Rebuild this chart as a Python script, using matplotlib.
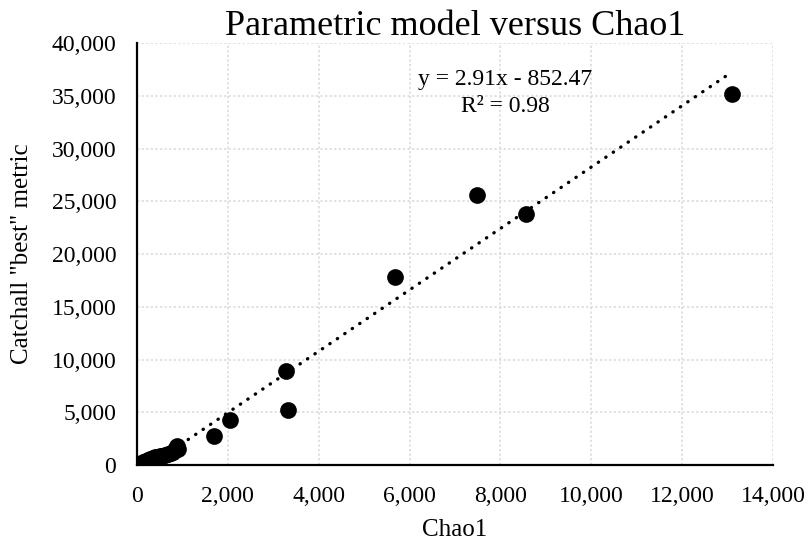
import numpy as np
import matplotlib
matplotlib.use("Agg")
import matplotlib.pyplot as plt
from matplotlib.ticker import FuncFormatter, MultipleLocator

# values
chao1 = [140, 170, 200, 240, 280, 320, 360, 400, 450, 500, 560, 620, 680, 740, 790,
         830, 860, 880, 900, 1700, 2040, 3290, 3320, 5690, 7490, 8560, 13100]
catchall = [250, 320, 400, 480, 540, 600, 660, 720, 780, 840, 900, 960, 1030, 1120, 1250,
            1400, 1600, 1850, 1550, 2750, 4280, 8940, 5230, 17870, 25570, 23760, 35200]

# linear trend as printed on the chart
slope = 2.91
intercept = -852.47
r2 = 0.98

plt.rcParams['font.family'] = ['Liberation Serif', 'DejaVu Serif']

fig = plt.figure(figsize=(8.11, 5.5), dpi=100)
ax = fig.add_axes([0.169, 0.1545, 0.784, 0.767])

ax.scatter(chao1, catchall, s=145, color='black', zorder=3, linewidths=0)

xt = np.array([min(chao1), max(chao1)])
ax.plot(xt, slope * xt + intercept, color='black', lw=2.4,
        linestyle=(0, (0.1, 2.6)), dash_capstyle='round', zorder=2)

ax.set_xlim(0, 14000)
ax.set_ylim(0, 40000)
ax.xaxis.set_major_locator(MultipleLocator(2000))
ax.yaxis.set_major_locator(MultipleLocator(5000))
fmt = FuncFormatter(lambda v, p: f"{int(v):,}")
ax.xaxis.set_major_formatter(fmt)
ax.yaxis.set_major_formatter(fmt)
ax.tick_params(axis='x', length=0, labelsize=17, pad=15)
ax.tick_params(axis='y', length=0, labelsize=17, pad=15)

ax.grid(True, color='#d9d9d9', linestyle=(0, (1.5, 1.5)), lw=1.1)
ax.set_axisbelow(True)
for s in ['top', 'right']:
    ax.spines[s].set_visible(False)
for s in ['left', 'bottom']:
    ax.spines[s].set_linewidth(1.6)

ax.set_title("Parametric model versus Chao1", fontsize=26, pad=3)
ax.set_xlabel("Chao1", fontsize=18, labelpad=9)
ax.set_ylabel('Catchall "best" metric', fontsize=18, labelpad=13)

ax.text(8100, 36600, f"y = {slope}x - {abs(intercept)}",
        fontsize=17, ha='center', va='center')
ax.text(8100, 34030, f"R² = {r2}",
        fontsize=17, ha='center', va='center')

fig.savefig("out.png", dpi=100)
